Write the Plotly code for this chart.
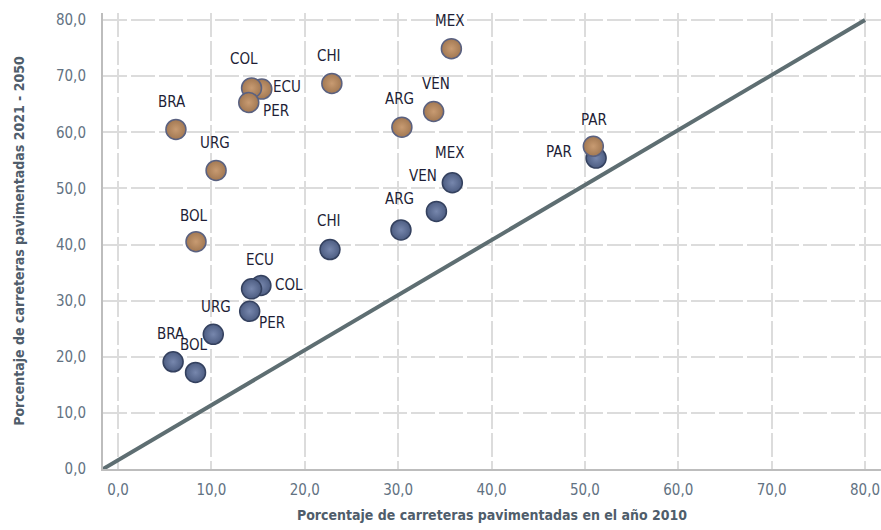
import plotly.graph_objects as go

# ---- data ----
brown_countries = ["MEX", "VEN", "ARG", "CHI", "ECU", "COL", "PER", "BRA", "URG", "BOL", "PAR"]
brown_x = [35.7, 33.8, 30.4, 22.9, 15.4, 14.3, 14.0, 6.2, 10.5, 8.35, 50.9]
brown_y = [74.9, 63.7, 60.9, 68.7, 67.7, 67.9, 65.3, 60.5, 53.2, 40.5, 57.5]

blue_countries = ["MEX", "VEN", "ARG", "CHI", "COL", "ECU", "PER", "URG", "BRA", "BOL", "PAR"]
blue_x = [35.8, 34.1, 30.3, 22.7, 15.3, 14.3, 14.1, 10.2, 5.9, 8.3, 51.2]
blue_y = [51.0, 45.9, 42.6, 39.1, 32.7, 32.1, 28.1, 24.0, 19.1, 17.2, 55.4]

tick_vals = [0, 10, 20, 30, 40, 50, 60, 70, 80]
tick_text = ["0,0", "10,0", "20,0", "30,0", "40,0", "50,0", "60,0", "70,0", "80,0"]

x_title = "Porcentaje de carreteras pavimentadas en el año 2010"
y_title = "Porcentaje de carreteras pavimentadas 2021 - 2050"

# ---- layout settings ----
X_RANGE = [-1.61, 81.71]
Y_RANGE = [0, 81.25]
diag_end = 80

# label offsets in pixels (dx right, dy down)
brown_off = {"MEX": (-2, -28), "VEN": (2, -28), "ARG": (-2, -28), "CHI": (-3, -27),
             "ECU": (25, -2), "COL": (-8, -29), "PER": (27, 8), "BRA": (-4, -27),
             "URG": (-1, -27), "BOL": (-2, -26), "PAR": (1, -26)}
blue_off = {"MEX": (-3, -30), "VEN": (-13, -35), "ARG": (-1, -31), "CHI": (-1, -29),
            "COL": (28, 0), "ECU": (8, -29), "PER": (22, 12), "URG": (3, -27),
            "BRA": (-2, -28), "BOL": (-2, -27), "PAR": (-37, -6)}

FONT = "DejaVu Sans Condensed, Liberation Sans Narrow, sans-serif"

fig = go.Figure()

# diagonal reference line
fig.add_trace(go.Scatter(
    x=[X_RANGE[0], diag_end], y=[Y_RANGE[0], diag_end], mode="lines",
    line=dict(color="#5e6e72", width=4), hoverinfo="skip", showlegend=False))

fig.add_trace(go.Scatter(
    x=blue_x, y=blue_y, mode="markers", name="Serie 1", showlegend=False,
    text=blue_countries,
    marker=dict(size=20, color="#4d5d82",
                gradient=dict(type="radial", color="#7787ad"),
                line=dict(color="#34415f", width=1.5))))

fig.add_trace(go.Scatter(
    x=brown_x, y=brown_y, mode="markers", name="Serie 2", showlegend=False,
    text=brown_countries,
    marker=dict(size=20, color="#a27852",
                gradient=dict(type="radial", color="#c89b72"),
                line=dict(color="#5a6180", width=1.5))))

annotations = []
for names, xs, ys, offs in ((blue_countries, blue_x, blue_y, blue_off),
                            (brown_countries, brown_x, brown_y, brown_off)):
    for n, xv, yv in zip(names, xs, ys):
        dx, dy = offs[n]
        annotations.append(dict(
            x=xv, y=yv, xref="x", yref="y", text=n, showarrow=False,
            xshift=dx, yshift=-dy,
            font=dict(family=FONT, size=15, color="#1e1e36")))

grid_color = "#dcdcdc"
fig.update_layout(
    width=881, height=530,
    margin=dict(l=103, r=0, t=13, b=61),
    paper_bgcolor="white", plot_bgcolor="white",
    font=dict(family=FONT),
    annotations=annotations,
    xaxis=dict(
        range=X_RANGE, tickvals=tick_vals, ticktext=tick_text,
        showgrid=True, gridcolor=grid_color, gridwidth=2, griddash="24px,4px",
        zeroline=False, showline=True, linecolor="#bdbdbd", linewidth=2,
        ticks="", ticklabelstandoff=6,
        tickfont=dict(family=FONT, size=15, color="#627282"),
        title=dict(text="<b>" + x_title + "</b>", standoff=12,
                   font=dict(family=FONT, size=14, color="#4f5d6b"))),
    yaxis=dict(
        range=Y_RANGE, tickvals=tick_vals, ticktext=tick_text,
        showgrid=True, gridcolor=grid_color, gridwidth=2, griddash="24px,4px",
        zeroline=False, showline=True, linecolor="#bdbdbd", linewidth=2,
        ticks="", ticklabelstandoff=12,
        tickfont=dict(family=FONT, size=15, color="#627282"),
        title=dict(text="<b>" + y_title + "</b>", standoff=28,
                   font=dict(family=FONT, size=14, color="#4f5d6b"))),
)

fig.write_html("out.html", config={"displayModeBar": False},
               post_script="document.body.style.margin='0';")
